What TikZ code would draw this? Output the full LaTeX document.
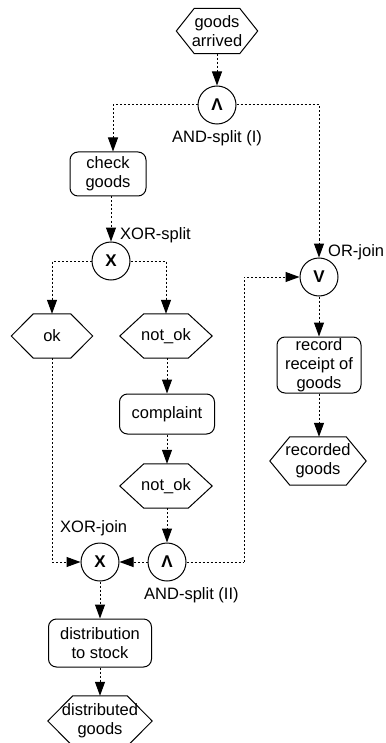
\documentclass[tikz,border=0pt]{standalone}
\usepackage{fontspec}
\setmainfont{Liberation Sans}
\usetikzlibrary{arrows.meta}

\tikzset{
  shapeline/.style={draw=black, line width=1pt},
  evtext/.style={rectangle, inner sep=0pt, align=center,
    font=\fontsize{16.5}{19}\selectfont},
  func/.style={shapeline, rectangle, rounded corners=8pt, inner sep=0pt,
    align=center, font=\fontsize{16.5}{19}\selectfont},
  conn/.style={shapeline, circle, minimum size=38pt, inner sep=0pt,
    font=\fontsize{17}{19}\selectfont\bfseries},
  lbl/.style={font=\fontsize{16.5}{19}\selectfont, inner sep=0pt},
  flow/.style={line width=1pt, dash pattern=on 2pt off 2pt,
    -{Triangle[length=14pt, width=10pt]}},
  plain/.style={line width=1pt, dash pattern=on 2pt off 2pt}
}

% event: hexagon drawn around a rectangular text node
% #1 name, #2 centre, #3 size options, #4 side inset, #5 text
\newcommand\evnode[5]{%
  \node[evtext,#3] (#1) at #2 {#5};
  \draw[shapeline] (#1.west) -- ([xshift=#4]#1.north west)
    -- ([xshift=-#4]#1.north east) -- (#1.east)
    -- ([xshift=-#4]#1.south east) -- ([xshift=#4]#1.south west) -- cycle;
}

\begin{document}
\begin{tikzpicture}[x=1pt, y=-1pt]
\useasboundingbox (0,0) rectangle (385,743);

% events
\evnode{ga}{(217,31)}{minimum width=81pt, minimum height=45pt}{18pt}{goods\\arrived}
\evnode{ok}{(52,336)}{minimum width=81pt, minimum height=44pt}{22pt}{ok}
\evnode{nok}{(166,336)}{minimum width=92pt, minimum height=44pt}{24pt}{not\_ok}
\evnode{nok2}{(166,486)}{minimum width=92pt, minimum height=44pt}{24pt}{not\_ok}
\evnode{rg}{(318,461)}{minimum width=96pt, minimum height=48pt}{20pt}{recorded\\goods}
\evnode{dg}{(100,721)}{minimum width=104pt, minimum height=50pt}{25pt}{distributed\\goods}

% functions
\node[func, minimum width=76pt, minimum height=44pt] (cg) at (108,174) {check\\goods};
\node[func, minimum width=95pt, minimum height=40pt] (comp) at (167,414) {complaint};
\node[func, minimum width=84pt, minimum height=56pt] (rr) at (319,365) {record\\receipt of\\goods};
\node[func, minimum width=103pt, minimum height=48pt] (dist) at (100,643) {distribution\\to stock};

% connectors
\node[conn] (and1) at (217,105) {Λ};
\node[conn] (xs) at (111,261) {X};
\node[conn] (orj) at (319,277) {V};
\node[conn] (xj) at (100,562) {X};
\node[conn] (and2) at (167,562) {Λ};

% connector labels
\node[lbl] (l-and1) at (217,138) {AND-split (I)};
\node[lbl, anchor=west] (l-xs) at (120,235) {XOR-split};
\node[lbl, anchor=west] (l-orj) at (328,252) {OR-join};
\node[lbl, anchor=west] (l-xj) at (60,528) {XOR-join};
\node[lbl, anchor=west] (l-and2) at (144,595) {AND-split (II)};

% control flow
\draw[flow] (ga) -- (and1);
\draw[flow] (and1.west) -| ([xshift=5pt]cg.north);
\draw[flow] (xs.north |- cg.south) -- (xs.north);
\draw[flow] (and1.east) -| (orj.north);
\draw[flow] (xs.west) -| (ok.north);
\draw[flow] (xs.east) -| (nok.north);
\draw[flow] (nok.south -| comp.north) -- (comp.north);
\draw[flow] (comp.south) -- (comp.south |- nok2.north);
\draw[flow] (nok2.south -| and2.north) -- (and2.north);
\draw[flow] (ok.south) |- (xj.west);
\draw[flow] (and2.west) -- (xj.east);
\coordinate (loop) at (244,562);
\draw[plain] (and2.east) -- (loop);
\draw[flow] (loop) |- (orj.west);
\draw[flow] (orj.south) -- (orj.south |- rr.north);
\draw[flow] (orj.south |- rr.south) -- (orj.south |- rg.north);
\draw[flow] (xj.south) -- (dist.north);
\draw[flow] (dist.south) -- (dg.north);
\end{tikzpicture}
\end{document}
